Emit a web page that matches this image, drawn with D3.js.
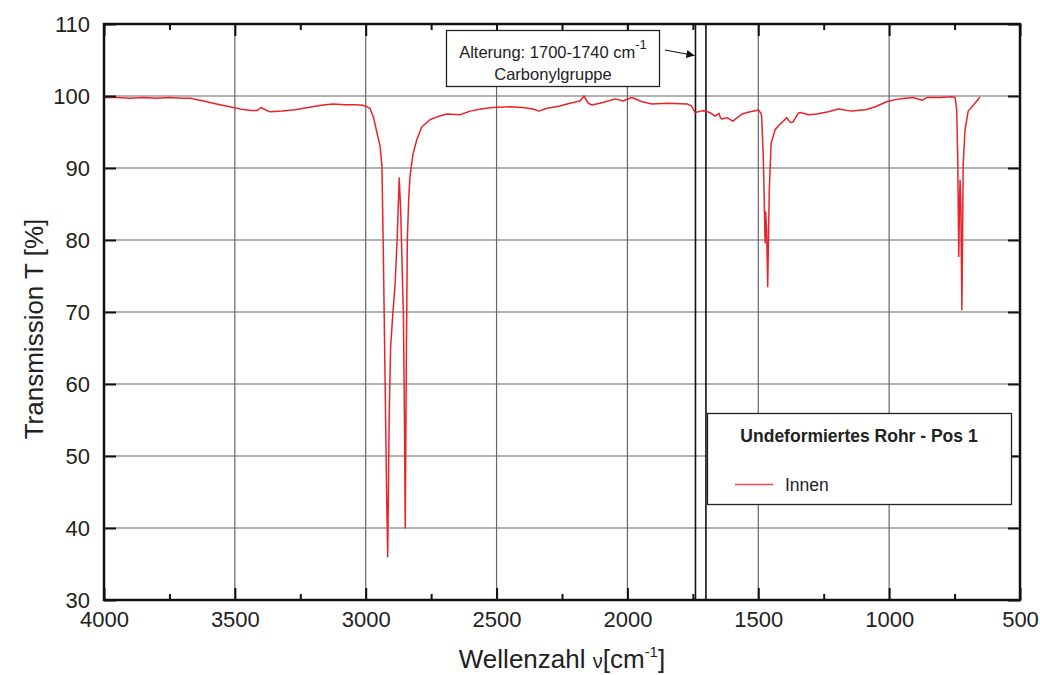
<!DOCTYPE html>
<html>
<head>
<meta charset="utf-8">
<script src="https://cdn.jsdelivr.net/npm/d3@7"></script>
<style>
  body { margin: 0; background: #fff; }
  svg { font-family: Arial, "Liberation Sans", sans-serif; }
</style>
</head>
<body>
<svg id="chart" width="1040" height="675"></svg>
<script>
// spectrum: wavenumber (cm-1) and transmission (%)
var wavenumbers = [4000,3950,3900,3850,3800,3750,3700,3670,3620,3570,3520,3480,3440,3415,3400,3390,3366,3320,3270,3220,3170,3125,3080,3040,3010,2995,2984,2970,2957,2945,2938,2933,2926,2920,2916,2910,2905,2896,2888,2880,2872,2866,2860,2856,2852,2849,2845,2841,2836,2831,2820,2805,2786,2755,2720,2690,2640,2601,2560,2514,2449,2400,2361,2338,2307,2258,2220,2181,2166,2150,2135,2093,2047,2017,1983,1944,1906,1849,1772,1755,1741,1720,1703,1680,1665,1650,1645,1639,1620,1597,1580,1562,1532,1506,1500,1490,1487,1481,1478,1474,1472,1468,1464,1458,1451,1436,1417,1405,1391,1377,1367,1348,1339,1308,1277,1232,1194,1144,1090,1052,1010,964,909,874,855,806,760,748,742,738,734,731,729,726,722,717,710,698,678,665,653];
var transmission = [99.8,99.8,99.7,99.8,99.7,99.8,99.7,99.7,99.3,98.9,98.5,98.2,98.0,98.0,98.4,98.2,97.8,97.9,98.1,98.4,98.7,98.9,98.8,98.8,98.7,98.5,98.3,97.0,94.9,93.0,90.2,79,60.6,44.5,36.0,56,65,70,73.7,80,88.6,83.7,75,69.8,55,40.0,62,80,85.5,88.8,91.8,93.9,95.7,96.7,97.2,97.5,97.4,97.9,98.2,98.4,98.5,98.4,98.2,97.9,98.3,98.6,99.0,99.3,100.0,99.0,98.75,99.1,99.6,99.3,99.8,99.2,98.9,99.0,98.9,98.6,97.7,97.9,97.95,97.6,97.2,97.6,97.0,96.8,97.0,96.5,97.0,97.5,97.8,98.0,98.1,97.6,97.1,91.6,86.9,79.6,83.9,81.4,73.5,86.9,93.4,95.3,96.1,96.5,97.0,96.3,96.4,97.6,97.7,97.4,97.5,97.8,98.2,97.9,98.1,98.5,99.2,99.6,99.8,99.4,99.8,99.8,99.9,99.8,98.1,91.6,77.7,85,88.3,85,70.3,90.6,95.3,97.9,98.75,99.3,99.9];

var xTicks = [4000,3500,3000,2500,2000,1500,1000,500];
var xMinor = [3750,3250,2750,2250,1750,1250,750];
var yTicks = [30,40,50,60,70,80,90,100,110];
var markLines = [1740,1700];
var seriesName = "Innen";
var legendTitle = "Undeformiertes Rohr - Pos 1";

var svg = d3.select('#chart');
var pl = 104, pr = 1020, pt = 24, pb = 600;

var x = d3.scaleLinear().domain([4000,500]).range([pl,pr]);
var y = d3.scaleLinear().domain([30,110]).range([pb,pt]);

// grid
svg.append('g').selectAll('line')
  .data(xTicks.slice(1,-1))
  .enter().append('line')
  .attr('x1', function(d){ return x(d) }).attr('x2', function(d){ return x(d) })
  .attr('y1', pt).attr('y2', pb)
  .attr('stroke', '#666').attr('stroke-width', 1.2);
svg.append('g').selectAll('line')
  .data(yTicks.slice(1,-1))
  .enter().append('line')
  .attr('x1', pl).attr('x2', pr)
  .attr('y1', function(d){ return y(d) }).attr('y2', function(d){ return y(d) })
  .attr('stroke', '#666').attr('stroke-width', 1.2);

// carbonyl region lines
svg.append('g').selectAll('line')
  .data(markLines)
  .enter().append('line')
  .attr('x1', function(d){ return x(d) }).attr('x2', function(d){ return x(d) })
  .attr('y1', pt).attr('y2', pb)
  .attr('stroke', '#111').attr('stroke-width', 1.6);

// spectrum
var pts = wavenumbers.map(function(w,i){ return [w, transmission[i]] });
var line = d3.line()
  .x(function(d){ return x(d[0]) })
  .y(function(d){ return y(d[1]) });
svg.append('path')
  .datum(pts)
  .attr('d', line)
  .attr('fill', 'none')
  .attr('stroke', '#e8232a')
  .attr('stroke-width', 1.5)
  .attr('stroke-linejoin', 'round');

// axes (ticks inside)
var gx = svg.append('g').attr('transform', 'translate(0,' + pb + ')')
  .call(d3.axisBottom(x).tickValues(xTicks).tickSize(-12).tickPadding(11).tickFormat(d3.format('d')));
var gxm = svg.append('g').attr('transform', 'translate(0,' + pb + ')')
  .call(d3.axisBottom(x).tickValues(xMinor).tickSize(-6).tickFormat(''));
var gxt = svg.append('g').attr('transform', 'translate(0,' + pt + ')')
  .call(d3.axisTop(x).tickValues(xTicks).tickSize(-12).tickFormat(''));
var gxtm = svg.append('g').attr('transform', 'translate(0,' + pt + ')')
  .call(d3.axisTop(x).tickValues(xMinor).tickSize(-6).tickFormat(''));
var gy = svg.append('g').attr('transform', 'translate(' + pl + ',0)')
  .call(d3.axisLeft(y).tickValues(yTicks).tickSize(-12).tickPadding(14));
var gyr = svg.append('g').attr('transform', 'translate(' + pr + ',0)')
  .call(d3.axisRight(y).tickValues(yTicks).tickSize(-12).tickFormat(''));

[gx,gxm,gxt,gxtm,gy,gyr].forEach(function(g){
  g.select('.domain').remove();
  g.selectAll('.tick line').attr('stroke', '#111').attr('stroke-width', 2);
  g.selectAll('text').attr('font-size', 22).attr('fill', '#222')
    .attr('font-family', 'Arial, "Liberation Sans", sans-serif');
});

// frame
svg.append('rect')
  .attr('x', pl).attr('y', pt)
  .attr('width', pr-pl).attr('height', pb-pt)
  .attr('fill', 'none').attr('stroke', '#111').attr('stroke-width', 2.5);

// axis titles
svg.append('text')
  .attr('transform', 'translate(34,329) rotate(-90)')
  .attr('text-anchor', 'middle')
  .attr('dy', '0.35em')
  .attr('font-size', 26).attr('fill', '#222')
  .text('Transmission T [%]');

var xt = svg.append('text')
  .attr('x', 562).attr('y', 668)
  .attr('text-anchor', 'middle')
  .attr('font-size', 26).attr('fill', '#222');
xt.append('tspan').text('Wellenzahl ');
xt.append('tspan').attr('font-size', 20).text('\u03bd');
xt.append('tspan').text('[cm');
xt.append('tspan').attr('font-size', 15).attr('dy', -11).text('-1');
xt.append('tspan').attr('dy', 11).text(']');

// annotation box
svg.append('rect')
  .attr('x', 446.5).attr('y', 30.5).attr('width', 213).attr('height', 56)
  .attr('fill', '#fff').attr('stroke', '#222').attr('stroke-width', 1.3);
var a1 = svg.append('text')
  .attr('x', 553).attr('y', 58)
  .attr('text-anchor', 'middle')
  .attr('font-size', 16.5).attr('fill', '#222');
a1.append('tspan').text('Alterung: 1700-1740 cm');
a1.append('tspan').attr('font-size', 13).attr('dy', -9).text('-1');
svg.append('text')
  .attr('x', 553).attr('y', 80)
  .attr('text-anchor', 'middle')
  .attr('font-size', 16.5).attr('fill', '#222')
  .text('Carbonylgruppe');

// arrow to the marked region
svg.append('defs').append('marker')
  .attr('id', 'arr').attr('viewBox', '0 0 10 10')
  .attr('refX', 10).attr('refY', 5)
  .attr('markerWidth', 13).attr('markerHeight', 8)
  .attr('markerUnits', 'userSpaceOnUse')
  .attr('orient', 'auto')
  .append('path').attr('d', 'M0,0L10,5L0,10z').attr('fill', '#111');
svg.append('line')
  .attr('x1', 665).attr('y1', 50)
  .attr('x2', x(1740) - 1).attr('y2', 55.5)
  .attr('stroke', '#111').attr('stroke-width', 1.2)
  .attr('marker-end', 'url(#arr)');

// legend
svg.append('rect')
  .attr('x', 707.5).attr('y', 413.5).attr('width', 304).attr('height', 91)
  .attr('fill', '#fff').attr('stroke', '#222').attr('stroke-width', 1.3);
svg.append('text')
  .attr('x', 859).attr('y', 442)
  .attr('text-anchor', 'middle')
  .attr('font-size', 17.5).attr('font-weight', 'bold').attr('fill', '#222')
  .text(legendTitle);
svg.append('line')
  .attr('x1', 735).attr('x2', 773).attr('y1', 484.5).attr('y2', 484.5)
  .attr('stroke', '#f04a4e').attr('stroke-width', 1.5);
svg.append('text')
  .attr('x', 785).attr('y', 491)
  .attr('font-size', 17.5).attr('fill', '#222')
  .text(seriesName);
</script>
</body>
</html>
